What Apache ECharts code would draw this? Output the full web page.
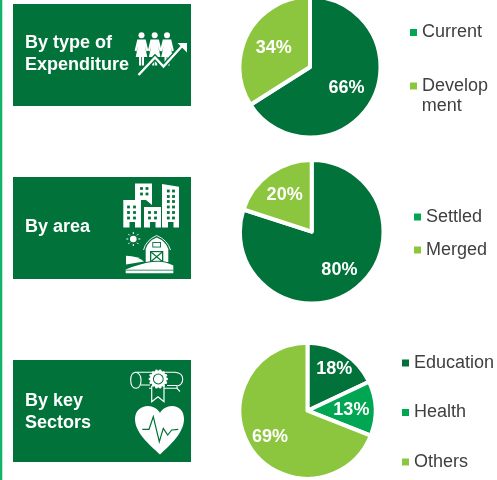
<!DOCTYPE html>
<html><head><meta charset="utf-8">
<style>html,body{margin:0;padding:0;background:#fff}#c{width:497px;height:480px}</style>
<script src="https://cdn.jsdelivr.net/npm/echarts@6/dist/echarts.min.js"></script>
</head><body><div id="c"></div>
<script>
const expenditureNames = ['Current', 'Development'];
const expenditureValues = [66, 34];
const areaNames = ['Settled', 'Merged'];
const areaValues = [80, 20];
const sectorNames = ['Education', 'Health', 'Others'];
const sectorValues = [18, 13, 69];

const DARK = '#00723A', MID = '#00A651', LIGHT = '#8CC63F', FONT = '"Liberation Sans", Arial, sans-serif';

function pie(names, values, colors, center, r, labelR) {
  let acc = 0;
  const total = values.reduce((a, b) => a + b, 0);
  const pos = values.map((v, i) => {
    const a = (acc + v / 2) / total * 2 * Math.PI; acc += v;
    return [center[0] + Math.sin(a) * labelR[i] * r, center[1] - Math.cos(a) * labelR[i] * r];
  });
  return {
    type: 'pie', center, radius: [0, r + 1.5], startAngle: 90, clockwise: true, silent: true,
    avoidLabelOverlap: false, animation: false,
    itemStyle: { borderColor: '#fff', borderWidth: 4 },
    labelLine: { show: false },
    label: { show: true, position: 'inside', formatter: '{c}%', color: '#fff', fontFamily: FONT, fontWeight: 'bold', fontSize: 18 },
    labelLayout: p => ({ x: pos[p.dataIndex][0], y: pos[p.dataIndex][1] + 0.5, align: 'center', verticalAlign: 'middle' }),
    data: names.map((n, i) => ({ name: n, value: values[i], itemStyle: { color: colors[i] } }))
  };
}
function legend(names, colors, left, top, gap) {
  return {
    left, top, orient: 'vertical', padding: 0, itemGap: gap, itemWidth: 7, itemHeight: 7, icon: 'rect',
    selectedMode: false,
    formatter: n => n === 'Development' ? 'Develop' : n,
    textStyle: { fontFamily: FONT, fontSize: 18, color: '#404040', lineHeight: 20, padding: 0 },
    data: names.map((n, i) => ({ name: n, icon: 'rect', itemStyle: { color: colors[i], borderWidth: 0 } }))
  };
}
// page furniture (panels, titles)
const g = [];
const pRect = (x, y, w, h, fill) => g.push({ type: 'rect', shape: { x, y, width: w, height: h }, style: { fill }, silent: true });
const text = (t, x, y, o) => g.push({ type: 'text', x, y, silent: true, style: Object.assign({ text: t, fill: '#fff', font: 'bold 18px ' + FONT, verticalAlign: 'middle', textVerticalAlign: 'middle' }, o || {}) });

pRect(0, 0, 2.3, 480, '#14B469');
pRect(13, 4, 178, 102, DARK);
pRect(13, 177, 178, 102, DARK);
pRect(13, 360, 178, 102, DARK);

text('By type of', 25, 43.5); text('Expenditure', 25, 65);
text('By area', 25, 227.5);
text('By key', 25, 401.5); text('Sectors', 25, 423);
text('ment', 421.7, 106, { fill: '#404040', font: '18px ' + FONT });

// decorative icons
const ic = [];
const rect = (x, y, w, h, fill) => ic.push({ type: 'rect', shape: { x, y, width: w, height: h }, style: { fill } });
const path = (d, fill, stroke, lw) => ic.push({ type: 'path', shape: { pathData: d }, style: { fill: fill || 'none', stroke: stroke || 'none', lineWidth: lw || 0 } });
const circ = (cx, cy, r, fill) => ic.push({ type: 'circle', shape: { cx, cy, r }, style: { fill } });

// people & growth arrow
[141.5, 154.7, 167].forEach(x => {
  circ(x, 35.2, 3, '#fff');
  path(`M${x-4.2} 39.5 L${x+4.2} 39.5 L${x+6.8} 50.5 L${x+5} 51.5 L${x+3.4} 46 L${x+5.8} 57 L${x+2.5} 57 L${x+2.5} 65.5 L${x+0.4} 65.5 L${x+0.4} 57 L${x-0.4} 57 L${x-0.4} 65.5 L${x-2.5} 65.5 L${x-2.5} 57 L${x-5.8} 57 L${x-3.4} 46 L${x-5} 51.5 L${x-6.8} 50.5 Z`, '#fff');
});
path('M138.5 75 L155 57.5 L163.5 66.5 L183 45', 'none', DARK, 5);
path('M138.5 75 L155 57.5 L163.5 66.5 L183 45', 'none', '#fff', 2.4);
path('M177.5 43 L187 43 L187 52.5 Z', '#fff');

// buildings
const bw = (xs, ys) => xs.forEach(x => ys.forEach(y => rect(x - 1.4, y - 1.4, 2.8, 2.8, DARK)));
path('M135 183.5 L152 183.5 L152 205 L146 200 L135 200 Z', '#fff');
bw([141.5, 147], [188.5, 194]);
path('M123.3 200 L141 200 L141 227.5 L135 227.5 L135 222 L129.5 222 L129.5 227.5 L123.3 227.5 Z', '#fff');
bw([128.5, 134.5], [207, 212.5, 218]);
path('M144 207 L161 207 L161 227.5 L155.5 227.5 L155.5 222 L150 222 L150 227.5 L144 227.5 Z', '#fff');
bw([149.5, 155.5], [212.5, 218]);
path('M162 184 L179 186.8 L179 227.5 L173.5 227.5 L173.5 222 L168 222 L168 227.5 L162 227.5 Z', '#fff');
bw([168.3, 173.5], [191, 196.5, 201.5, 207, 212.5, 218]);

// sun
circ(133.3, 239, 3.3, '#fff');
path('M133.3 232 V234 M133.3 244 V246 M126.3 239 H128.3 M138.3 239 H140.3 M128.3 234 L129.7 235.4 M137 242.7 L138.4 244.1 M138.4 234 L137 235.4 M129.7 242.7 L128.3 244.1', 'none', '#fff', 1);
// barn
path('M143.5 250 Q146 240 156.7 235.5 Q167.5 240 170.5 250', 'none', '#fff', 0.9);
path('M145.7 249 Q148 241 156.7 237.5 Q165.5 241 168.3 249 L168.3 262 L145.7 262 Z', '#fff');
rect(152.3, 242, 8.7, 5.5, DARK); rect(153.2, 242.9, 6.9, 3.7, '#fff');
rect(150, 251, 13.3, 11, DARK); rect(151.3, 252.2, 10.7, 9, '#fff');
path('M151.3 252.2 L162 261.2 M162 252.2 L151.3 261.2', 'none', DARK, 1.2);
// hills
path('M126 255.7 Q138 256 144 261.5 Q135 263 126 264.5 Z', '#fff');
path('M125.7 268.5 Q140 262.5 152 261 Q165 259.5 173.3 265 L173.3 273.3 L125.7 273.3 Z', DARK);
path('M125.7 269.5 Q140 263.5 152 262 Q165 260.5 173.3 265.5 L173.3 273.3 L125.7 273.3 Z', '#fff');
rect(125.7, 269.8, 47.6, 0.8, DARK);

// diploma
path('M178 388.3 L149 388.3 M135 372.3 L175 372.3 Q182.7 373 182.7 379 Q182.7 385 177 386 L177 388.3 L180 391.5 M167 385.5 L177 385.5 M150 385 L141 385 M135.5 372.3 Q130.7 373 130.7 380 Q130.7 388 136 388.3 Q141 388 141 380 Q141 373.5 135.5 372.3 Z', 'none', '#fff', 1.1);
path('M151.7 386 V401.7 L158 396.7 L164 401.7 V386', DARK, '#fff', 1.2);
for (let i = 0; i < 14; i++) {
  const a = i / 14 * 2 * Math.PI;
  circ(158.3 + Math.cos(a) * 8.4, 379 + Math.sin(a) * 8.4, 1.3, '#fff');
}
circ(158.3, 379, 8.4, '#fff'); circ(158.3, 379, 5.4, DARK); circ(158.3, 379, 4.4, '#fff');

// heart
path('M160 454.5 C150 445 135 433 135 419 C135 411 141 406 148 406 C153 406 158 409 160 413 C162 409 167 406 172 406 C179 406 184 411 184 419 C184 433 170 445 160 454.5 Z', '#fff');
path('M142.3 429.3 L149 429.3 L153.3 416.7 L159.3 441.7 L163.3 428.3 L167.7 435 L171.7 430 L178.3 429.3', 'none', DARK, 1.2);

const option = {
  animation: false,
  backgroundColor: '#fff',
  legend: [
    legend(expenditureNames, [MID, LIGHT], 410, 22.5, 33.5),
    legend(areaNames, [MID, LIGHT], 414, 207, 13),
    legend(sectorNames, [DARK, MID, LIGHT], 402, 353, 29.5)
  ],
  series: [
    pie(expenditureNames, expenditureValues, [DARK, LIGHT], [310, 67], 69, [0.605, 0.6]),
    pie(areaNames, areaValues, [DARK, LIGHT], [311.7, 231.7], 70.3, [0.67, 0.655]),
    pie(sectorNames, sectorValues, [DARK, MID, LIGHT], [307.5, 410.7], 66.5, [0.75, 0.66, 0.68]),
    { type: 'custom', name: 'icons', coordinateSystem: 'none', silent: true, animation: false, data: [0],
      renderItem: () => ({ type: 'group', children: ic }) }
  ],
  graphic: { elements: g }
};
echarts.init(document.getElementById('c'), null, { renderer: 'canvas' }).setOption(option);
</script></body></html>
